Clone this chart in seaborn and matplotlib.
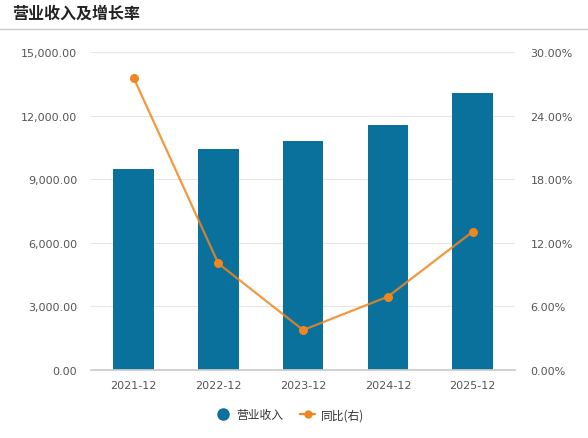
import pandas as pd
import numpy as np
import matplotlib
matplotlib.use("Agg")
import matplotlib.pyplot as plt
import seaborn as sns
from matplotlib.lines import Line2D
from matplotlib.ticker import FuncFormatter, FixedLocator

# 数据
periods = ['2021-12', '2022-12', '2023-12', '2024-12', '2025-12']
revenue = [9480, 10420, 10800, 11560, 13060]
yoy = [27.6, 10.05, 3.77, 6.92, 13.05]

BLUE = '#0a719c'
ORANGE = '#f0861f'
GRID = '#e6e6e6'
TXT = '#555555'


def build_frame():
    return pd.DataFrame({'period': periods, 'revenue': revenue, 'yoy': yoy})


def draw(df):
    sns.set_theme(style="white")
    plt.rcParams['font.family'] = ['DejaVu Sans', 'Noto Sans CJK SC']
    plt.rcParams['axes.unicode_minus'] = False

    fig = plt.figure(figsize=(5.88, 4.39), dpi=100)
    ax = fig.add_axes([0.155, 0.155, 0.721, 0.724])

    sns.barplot(data=df, x='period', y='revenue', color=BLUE, width=0.48,
                saturation=1, linewidth=0, ax=ax, zorder=2)
    ax.set_xlim(-0.5, len(periods) - 0.5)
    ax.set_ylim(0, 15000)
    ax.set_yticks(np.arange(0, 15001, 3000))
    ax.yaxis.set_major_formatter(FuncFormatter(lambda v, p: f'{v:,.2f}'))
    ax.grid(axis='y', color=GRID, linewidth=0.8, zorder=0)
    ax.set_axisbelow(True)
    ax.set_xlabel('')
    ax.set_ylabel('')
    for s in ['top', 'right', 'left']:
        ax.spines[s].set_visible(False)
    ax.spines['bottom'].set_color('#cccccc')
    ax.tick_params(axis='y', length=0, labelsize=8, labelcolor=TXT, pad=10)
    ax.tick_params(axis='x', which='major', length=0, labelsize=8, labelcolor=TXT, pad=7)
    ax.xaxis.set_minor_locator(FixedLocator(np.arange(-0.5, len(periods), 1)))
    ax.tick_params(axis='x', which='minor', length=9, color='#cccccc', width=0.8)

    ax2 = ax.twinx()
    ax2.plot(range(len(periods)), df['yoy'], color=ORANGE, linewidth=1.6,
             alpha=0.85, zorder=3)
    ax2.scatter(range(len(periods)), df['yoy'], color=ORANGE, s=30, zorder=4)
    ax2.set_ylim(0, 30)
    ax2.set_yticks(np.arange(0, 30.1, 6))
    ax2.yaxis.set_major_formatter(FuncFormatter(lambda v, p: f'{v:.2f}%'))
    for s in ['top', 'right', 'left', 'bottom']:
        ax2.spines[s].set_visible(False)
    ax2.tick_params(axis='y', length=0, labelsize=8, labelcolor=TXT, pad=11)
    ax2.grid(False)

    # 标题与分隔线
    fig.text(12 / 588, 1 - 14 / 439, '营业收入及增长率', fontsize=11.5,
             fontweight='bold', color='#222222', va='center', ha='left',
             family=['Noto Sans CJK SC', 'DejaVu Sans'])
    fig.add_artist(Line2D([0, 1], [1 - 30 / 439, 1 - 30 / 439],
                          color='#cccccc', linewidth=1))

    # 图例
    handles = [
        Line2D([], [], marker='o', linestyle='none', color=BLUE, markersize=8),
        Line2D([], [], marker='o', color=ORANGE, linewidth=1.6, markersize=5),
    ]
    fig.legend(handles, ['营业收入', '同比(右)'], loc='center',
               bbox_to_anchor=(0.493, 1 - 416 / 439), ncol=2, frameon=False,
               prop={'family': ['Noto Sans CJK SC', 'DejaVu Sans'], 'size': 8.5,
                     'weight': 'medium'},
               labelcolor='#333333',
               handlelength=1.3, columnspacing=1.4, handletextpad=0.5)

    fig.savefig('out.png', dpi=100, facecolor='white')


def main():
    df = build_frame()
    draw(df)


if __name__ == "__main__":
    main()
